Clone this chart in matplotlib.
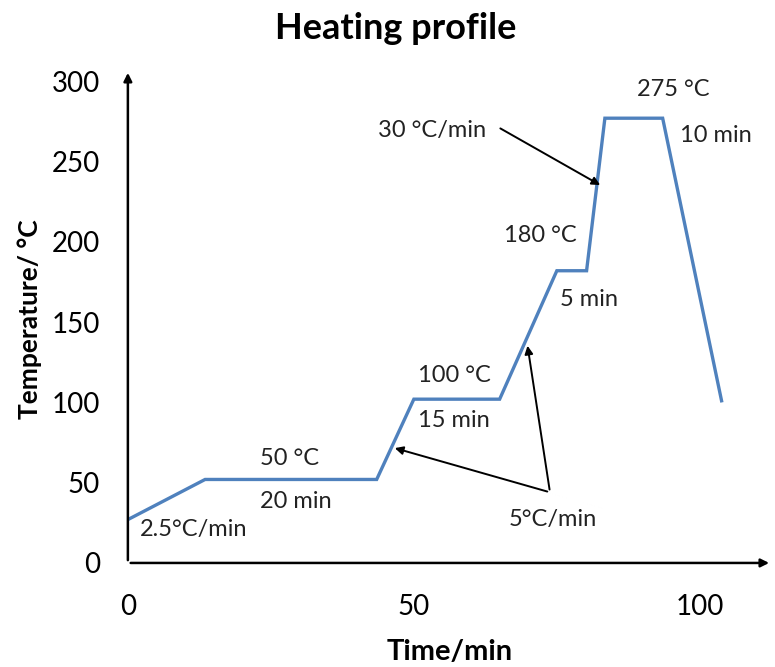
import matplotlib.pyplot as plt

plt.rcParams['font.family'] = ['Lato', 'DejaVu Sans']

# profile corners
time_min = [0, 13.5, 43.5, 50, 65, 75, 80.2, 83.4, 93.5, 103.8]
temp_c = [27, 52, 52, 102, 102, 182, 182, 277, 277, 101]

x_ticks = [0, 50, 100]
y_ticks = [0, 50, 100, 150, 200, 250, 300]

# (text, x, y, ha)
labels = [
    ('275 °C', 95.4, 295, 'center'),
    ('10 min', 96.5, 266, 'left'),
    ('180 °C', 65.8, 204, 'left'),
    ('5 min', 75.5, 164, 'left'),
    ('100 °C', 50.8, 117, 'left'),
    ('15 min', 50.8, 89, 'left'),
    ('50 °C', 23.1, 65, 'left'),
    ('20 min', 23.1, 38, 'left'),
    ('2.5°C/min', 2.1, 21, 'left'),
    ('5°C/min', 66.5, 27, 'left'),
]

fig = plt.figure(figsize=(7.75, 6.67), dpi=100)
ax = fig.add_axes([0.165, 0.156, 0.831, 0.739])

ax.plot(time_min, temp_c, color='#4F81BD', linewidth=2.4, solid_joinstyle='miter')

ax.set_xlim(0, 112.6)
ax.set_ylim(0, 307)
ax.set_xticks(x_ticks)
ax.set_yticks(y_ticks)
ax.tick_params(length=0, labelsize=20)
ax.tick_params(axis='x', pad=22)
ax.tick_params(axis='y', pad=20)
for s in ax.spines.values():
    s.set_visible(False)

# axes drawn as arrows
ax.annotate('', xy=(1, 0), xytext=(0, 0), xycoords='axes fraction',
            arrowprops=dict(arrowstyle='-|>', color='black', lw=1.8, mutation_scale=12))
ax.annotate('', xy=(0, 1), xytext=(0, 0), xycoords='axes fraction',
            arrowprops=dict(arrowstyle='-|>', color='black', lw=1.8, mutation_scale=12))

for txt, x, y, ha in labels:
    ax.text(x, y, txt, fontsize=17, ha=ha, va='center', color='#222222')

ax.text(53.1, 269.5, '30 °C/min', fontsize=17, ha='center', va='center', color='#222222')
ax.annotate('', xy=(83.0, 234.5), xytext=(64.7, 271.5),
            arrowprops=dict(arrowstyle='-|>', color='black', lw=1.4, mutation_scale=12))
ax.annotate('', xy=(46.2, 72), xytext=(73.8, 44),
            arrowprops=dict(arrowstyle='-|>', color='black', lw=1.4, mutation_scale=12))
ax.annotate('', xy=(69.8, 137), xytext=(73.8, 44),
            arrowprops=dict(arrowstyle='-|>', color='black', lw=1.4, mutation_scale=12))

ax.set_xlabel('Time/min', fontsize=21, fontweight='bold')
ax.set_ylabel('Temperature/ °C', fontsize=19, fontweight='bold')
ax.xaxis.set_label_coords(0.5, -0.155)
ax.yaxis.set_label_coords(-0.134, 0.495)
fig.text(0.51, 0.958, 'Heating profile', fontsize=26, fontweight='bold', ha='center', va='center')

fig.savefig('out.png', dpi=100)
